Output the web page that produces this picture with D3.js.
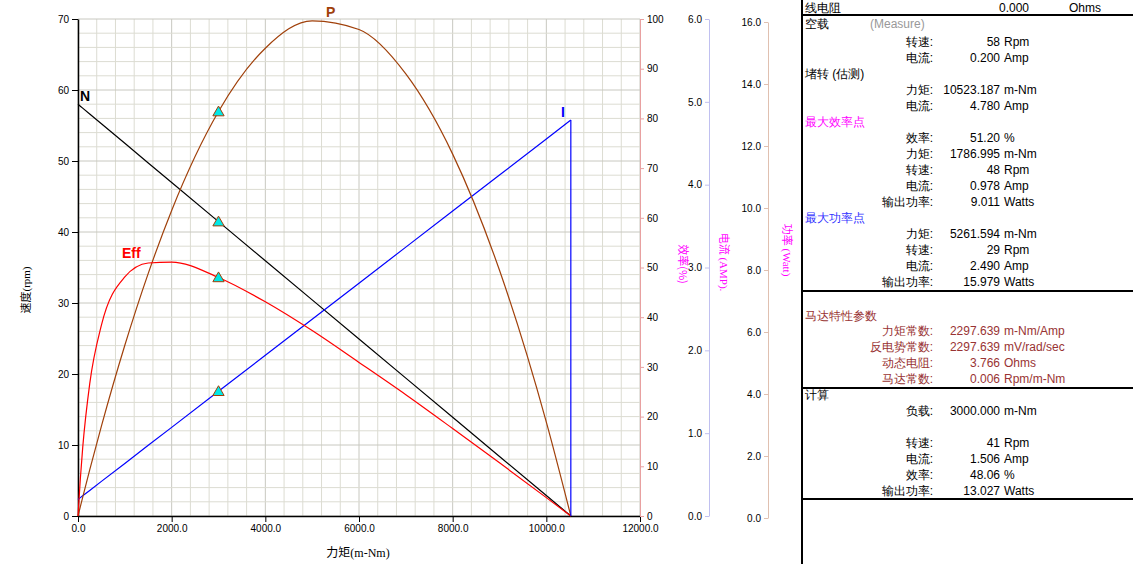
<!DOCTYPE html><html><head><meta charset="utf-8">
<script src="https://cdn.jsdelivr.net/npm/d3@7"></script>
<style>body{margin:0;background:#fff}text{font-family:Arial,"Liberation Sans",sans-serif}</style></head><body>
<svg id="c" width="1141" height="564"></svg>
<script>
const torque=[0,50,100,250,500,1000,1500,2000,3000,4000,5000,6000,7000,8000,9000,10000,10523];
const speed=[58,57.72,57.45,56.62,55.24,52.49,49.73,46.98,41.46,35.95,30.44,24.93,19.42,13.91,8.39,2.88,0];
const current=[0.2,0.222,0.244,0.309,0.418,0.635,0.853,1.07,1.506,1.941,2.376,2.811,3.246,3.682,4.117,4.552,4.78];
const power=[0,0.302,0.601,1.482,2.892,5.496,7.811,9.838,13.02,15.06,15.94,15.66,14.23,11.65,7.91,3.02,0];
const eff=[0,7.5,13.7,26.6,38.4,48.1,50.9,51.1,48.0,43.1,37.3,30.9,24.4,17.6,10.7,3.7,0];
const loadT=3000;
const xTicks=[0,2000,4000,6000,8000,10000,12000];
const tableRows=[
["空载","","","",24,"#000",true],
["转速:","58","Rpm","",42],["电流:","0.200","Amp","",58],
["堵转 (估测)","","","",74,"#000",true],
["力矩:","10523.187","m-Nm","",90],["电流:","4.780","Amp","",106],
["最大效率点","","","",122,"#ff00ff",true],
["效率:","51.20","%","",138],["力矩:","1786.995","m-Nm","",154],["转速:","48","Rpm","",170],["电流:","0.978","Amp","",186],["输出功率:","9.011","Watts","",202],
["最大功率点","","","",218,"#3333ff",true],
["力矩:","5261.594","m-Nm","",234],["转速:","29","Rpm","",250],["电流:","2.490","Amp","",266],["输出功率:","15.979","Watts","",282],
["马达特性参数","","","",316,"#993333",true],
["力矩常数:","2297.639","m-Nm/Amp","",331,"#993333"],["反电势常数:","2297.639","mV/rad/sec","",347,"#993333"],["动态电阻:","3.766","Ohms","",363,"#993333"],["马达常数:","0.006","Rpm/m-Nm","",379,"#993333"],
["计算","","","",395,"#000",true],
["负载:","3000.000","m-Nm","",411],["转速:","41","Rpm","",443],["电流:","1.506","Amp","",459],["效率:","48.06","%","",475],["输出功率:","13.027","Watts","",491]];

const svg=d3.select("#c");
const L=78,R=640,T=19,B=516;
const x=d3.scaleLinear([0,12000],[L,R]);
const yS=d3.scaleLinear([0,70],[B,T]);
const yE=d3.scaleLinear([0,100],[B,T]);
const yI=d3.scaleLinear([0,6],[B,T]);
const yP=d3.scaleLinear([0,16],[B,T]);
const g=svg.append("g");
d3.range(0,12001,400).forEach((v,i)=>g.append("line").attr("x1",x(v)).attr("x2",x(v)).attr("y1",T).attr("y2",B).attr("stroke",i%5==0?"#c8c8c0":"#dcdcd2").attr("stroke-width",1));
d3.range(0,71,2).forEach((v,i)=>g.append("line").attr("x1",L).attr("x2",R).attr("y1",yS(v)).attr("y2",yS(v)).attr("stroke",v%10==0?"#c8c8c0":"#dcdcd2"));
const ax=svg.append("g").attr("transform",`translate(0,${B})`).call(d3.axisBottom(x).tickValues(xTicks).tickFormat(d3.format(".1f")).tickSizeOuter(0));
ax.select(".domain").attr("stroke-width",1.5);
svg.append("g").attr("transform",`translate(${L},0)`).call(d3.axisLeft(yS).tickValues(d3.range(0,71,10)).tickSizeOuter(0)).select(".domain").attr("stroke-width",1.5);
const ae=svg.append("g").attr("transform",`translate(${R},0)`).call(d3.axisRight(yE).tickValues(d3.range(0,101,10)).tickSize(4).tickSizeOuter(0));
ae.selectAll("line,.domain").attr("stroke","#e8a0a0");
const ai=svg.append("g").attr("transform",`translate(709,0)`).call(d3.axisLeft(yI).tickValues(d3.range(0,6.1,1)).tickFormat(d3.format(".1f")).tickSize(4).tickSizeOuter(0));
ai.selectAll("line,.domain").attr("stroke","#c0c0f0");
const ap=svg.append("g").attr("transform",`translate(768,0)`).call(d3.axisLeft(yP.copy().range([518,22])).tickValues(d3.range(0,16.1,2)).tickFormat(d3.format(".1f")).tickSize(4).tickSizeOuter(0));
ap.selectAll("line,.domain").attr("stroke","#e0c0b0");
svg.selectAll(".tick text").attr("font-size",10).attr("font-family","Arial,Liberation Sans");

const series=[[speed,yS,"#000"],[current,yI,"#0000ff"],[power,yP,"#a0400a"],[eff,yE,"#ff0000"]];
series.forEach(([d,y,c])=>{
  const pts=torque.map((t,i)=>[x(t),y(d[i])]);
  const cur=(d===speed||d===current)?d3.curveLinear:d3.curveMonotoneX;
  svg.append("path").attr("d",d3.line().curve(cur)(pts)).attr("fill","none").attr("stroke",c).attr("stroke-width",1.2);
  const k=torque.indexOf(loadT);
  svg.append("path").attr("d",d3.symbol(d3.symbolTriangle,55)()).attr("transform",`translate(${x(loadT)},${y(d[k])+1})`).attr("fill","#00e8e8").attr("stroke","#a0400a");
});
svg.append("line").attr("x1",x(10523)).attr("x2",x(10523)).attr("y1",yI(4.78)).attr("y2",B).attr("stroke","#0000ff").attr("stroke-width",1.2);
const lab=(t,xx,yy,c,s)=>svg.append("text").text(t).attr("x",xx).attr("y",yy).attr("fill",c).attr("font-weight","bold").attr("font-size",s||14);
lab("N",80,101,"#000");lab("P",326,17,"#a0400a");lab("I",561,117,"#0000ff");lab("Eff",122,258,"#ff0000");
const rt=(t,xx,yy,c,a,f)=>svg.append("text").text(t).attr("transform",`translate(${xx},${yy}) rotate(${a})`).attr("text-anchor","middle").attr("fill",c).attr("font-size",11).style("font-family",f||"'Noto Sans CJK SC'");
rt("速度(rpm)",30,290,"#000",-90,"'Liberation Serif','Noto Sans CJK SC'");
svg.append("text").text("力矩(m-Nm)").attr("x",358).attr("y",557).attr("text-anchor","middle").attr("font-size",12).style("font-family","'Liberation Serif','Noto Sans CJK SC'");
rt("效率(%)",679,264,"#ff00ff",90);
rt("电流 (AMP).",720,262,"#ff00ff",90,"'Liberation Serif','Noto Sans CJK SC'");
rt("功率 (Watt)",783,250,"#ff00ff",90,"'Liberation Serif','Noto Sans CJK SC'");

// table
const tb=svg.append("g").style("font-family","'Liberation Serif','Noto Sans CJK SC',serif").attr("font-size",12);
tb.append("line").attr("x1",802).attr("x2",802).attr("y1",0).attr("y2",564).attr("stroke","#000").attr("stroke-width",2);
[15,291,388,499].forEach(v=>tb.append("line").attr("x1",802).attr("x2",1133).attr("y1",v).attr("y2",v).attr("stroke","#000").attr("stroke-width",2));
tb.append("text").text("线电阻").attr("x",805).attr("y",12);
tb.append("text").text("0.000").attr("x",1029).attr("y",12).attr("text-anchor","end");
tb.append("text").text("Ohms").attr("x",1069).attr("y",12);
tb.append("text").text("(Measure)").attr("x",870).attr("y",28).attr("fill","#999").style("font-family","Arial,Liberation Sans");
tableRows.forEach(r=>{
  const c=r[5]||"#000",yy=r[4]+4;
  if(r[6]){tb.append("text").text(r[0]).attr("x",805).attr("y",yy).attr("fill",c);return;}
  tb.append("text").text(r[0]).attr("x",933).attr("y",yy).attr("text-anchor","end").attr("fill",c);
  tb.append("text").text(r[1]).attr("x",1000).attr("y",yy).attr("text-anchor","end").attr("fill",c);
  tb.append("text").text(r[2]).attr("x",1004).attr("y",yy).attr("fill",c);
});
</script></body></html>
